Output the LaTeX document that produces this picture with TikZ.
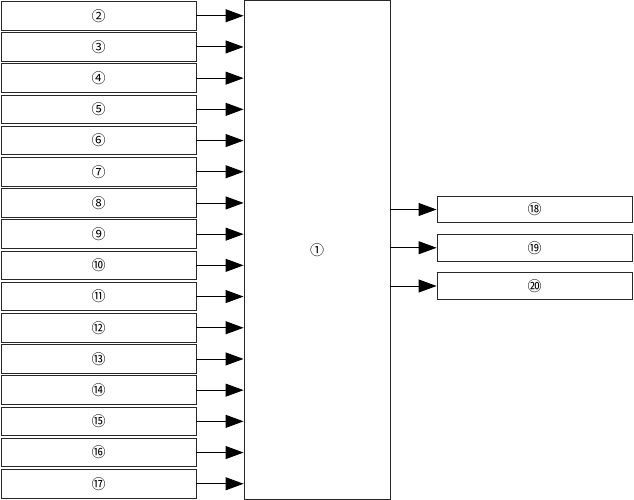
\documentclass[tikz,border=0pt]{standalone}
\usepackage{fontspec}
\setmainfont{Noto Sans CJK JP}
\usepackage{tikz}
\usetikzlibrary{arrows.meta, positioning, calc}
\definecolor{boxline}{RGB}{40, 40, 40}

\begin{document}
\begin{tikzpicture}[
    inbox/.style={rectangle, draw=boxline, line width=0.9pt, minimum width=195pt,
                  minimum height=28.6pt, inner sep=0pt, font=\fontsize{14}{14}\selectfont},
    outbox/.style={rectangle, draw=boxline, line width=0.9pt, minimum width=195pt,
                   minimum height=26.4pt, inner sep=0pt, font=\fontsize{14}{14}\selectfont},
    arrow/.style={-{Triangle[length=18pt, width=13pt]}, line width=0.9pt},
]
\useasboundingbox (0pt,0pt) rectangle (634pt,-500pt);

% Central unit
\node[rectangle, draw=boxline, line width=0.9pt, minimum width=146pt,
      minimum height=498.5pt, font=\fontsize{14}{14}\selectfont]
    (unit) at (317pt,-250pt) {①};

% Inputs
\node[inbox] (in2) at (98.5pt,-15.75pt) {②};
\node[inbox, below=1.7pt of in2] (in3) {③};
\node[inbox, below=1.7pt of in3] (in4) {④};
\node[inbox, below=1.7pt of in4] (in5) {⑤};
\node[inbox, below=1.7pt of in5] (in6) {⑥};
\node[inbox, below=1.7pt of in6] (in7) {⑦};
\node[inbox, below=1.7pt of in7] (in8) {⑧};
\node[inbox, below=1.7pt of in8] (in9) {⑨};
\node[inbox, below=1.7pt of in9] (in10) {⑩};
\node[inbox, below=1.7pt of in10] (in11) {⑪};
\node[inbox, below=1.7pt of in11] (in12) {⑫};
\node[inbox, below=1.7pt of in12] (in13) {⑬};
\node[inbox, below=1.7pt of in13] (in14) {⑭};
\node[inbox, below=1.7pt of in14] (in15) {⑮};
\node[inbox, below=1.7pt of in15] (in16) {⑯};
\node[inbox, below=1.7pt of in16] (in17) {⑰};

% Outputs
\node[outbox] (out18) at (534.5pt,-209.5pt) {⑱};
\node[outbox, below=10.95pt of out18] (out19) {⑲};
\node[outbox, below=10.95pt of out19] (out20) {⑳};

% Arrows in
\draw[arrow] (in2.east) -- (in2.east -| unit.west);
\draw[arrow] (in3.east) -- (in3.east -| unit.west);
\draw[arrow] (in4.east) -- (in4.east -| unit.west);
\draw[arrow] (in5.east) -- (in5.east -| unit.west);
\draw[arrow] (in6.east) -- (in6.east -| unit.west);
\draw[arrow] (in7.east) -- (in7.east -| unit.west);
\draw[arrow] (in8.east) -- (in8.east -| unit.west);
\draw[arrow] (in9.east) -- (in9.east -| unit.west);
\draw[arrow] (in10.east) -- (in10.east -| unit.west);
\draw[arrow] (in11.east) -- (in11.east -| unit.west);
\draw[arrow] (in12.east) -- (in12.east -| unit.west);
\draw[arrow] (in13.east) -- (in13.east -| unit.west);
\draw[arrow] (in14.east) -- (in14.east -| unit.west);
\draw[arrow] (in15.east) -- (in15.east -| unit.west);
\draw[arrow] (in16.east) -- (in16.east -| unit.west);
\draw[arrow] (in17.east) -- (in17.east -| unit.west);

% Arrows out
\draw[arrow] (out18.west -| unit.east) -- (out18.west);
\draw[arrow] (out19.west -| unit.east) -- (out19.west);
\draw[arrow] (out20.west -| unit.east) -- (out20.west);

\end{tikzpicture}
\end{document}
